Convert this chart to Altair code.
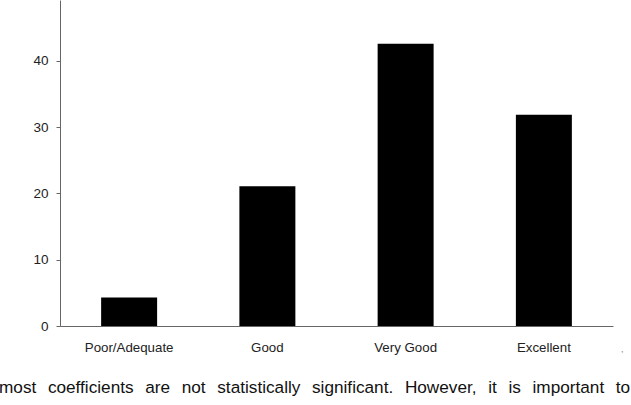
import altair as alt
import pandas as pd

categories = ["Poor/Adequate", "Good", "Very Good", "Excellent"]
values = [4.3, 21.1, 42.6, 31.9]
y_ticks = [0, 10, 20, 30, 40]

body_text = "most coefficients are not statistically significant. However, it is important to"
stray_mark = ","

df = pd.DataFrame({"category": categories, "value": values})

W, H = 553, 326
FONT = "Liberation Sans"

bars = alt.Chart(df).mark_bar(color="black").encode(
    x=alt.X(
        "category:N",
        sort=categories,
        scale=alt.Scale(paddingInner=0.595, paddingOuter=0.2975),
        axis=alt.Axis(
            title=None, labelAngle=0, ticks=False, labelPadding=14,
            labelFontSize=13.3, labelFont=FONT, labelColor="#222",
            domainColor="#666", domainWidth=1, grid=False,
        ),
    ),
    y=alt.Y(
        "value:Q",
        scale=alt.Scale(domain=[0, 49.2], nice=False, zero=True),
        axis=alt.Axis(
            title=None, values=y_ticks, tickSize=4, tickColor="#666",
            labelFontSize=13.5, labelFont=FONT, labelColor="#222", labelPadding=8,
            domainColor="#666", domainWidth=1, grid=False,
        ),
    ),
)

gap = "\u00a0\u2009\u2009"
body = alt.Chart(pd.DataFrame({"t": [body_text.replace(" ", gap)]})).mark_text(
    align="left", baseline="alphabetic", fontSize=17.2, font=FONT, color="#111"
).encode(x=alt.value(-61), y=alt.value(393), text="t:N")

comma = alt.Chart(pd.DataFrame({"t": [stray_mark]})).mark_text(
    align="left", baseline="alphabetic", fontSize=9, font=FONT, color="#888"
).encode(x=alt.value(561), y=alt.value(352), text="t:N")

chart = alt.layer(bars, body, comma).properties(
    width=W, height=H,
    autosize=alt.AutoSizeParams(type="none"),
    padding={"left": 60, "top": 0, "right": 18, "bottom": 79},
).configure_view(stroke=None)

chart.save("out.html", embed_options={"renderer": "svg", "actions": False})
